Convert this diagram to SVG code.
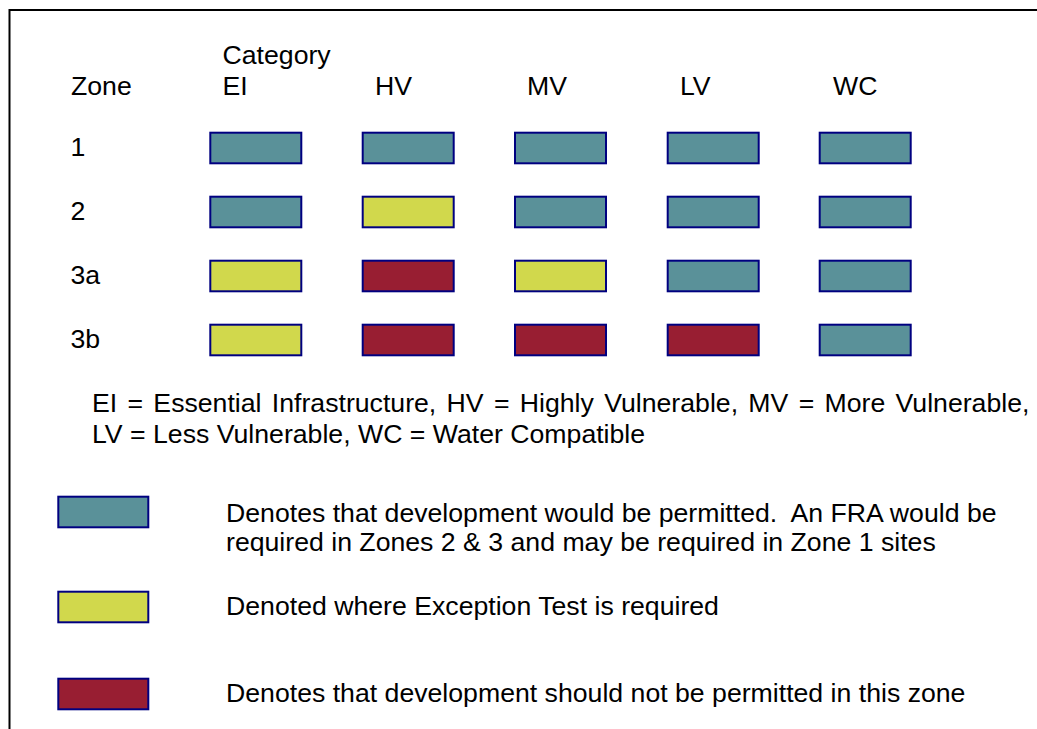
<svg xmlns="http://www.w3.org/2000/svg" width="1037" height="729" viewBox="0 0 1037 729">
  <style>
    text { font-family: "Liberation Sans", Arial, sans-serif; font-size: 26.67px; fill: #000; }
    .cell { stroke: #000080; stroke-width: 2; }
    .ok { fill: #5A9199; }
    .ex { fill: #D1D84C; }
    .no { fill: #981E32; }
  </style>
  <rect width="1037" height="729" fill="#fff"/>
  <!-- frame -->
  <path d="M9.5,729 V10 H1037" fill="none" stroke="#000" stroke-width="2"/>

  <!-- column and row headings -->
  <g id="headings">
    <text x="222.5" y="64">Category</text>
    <text x="71" y="95">Zone</text>
    <text x="222.5" y="95">EI</text>
    <text x="375" y="95">HV</text>
    <text x="527" y="95">MV</text>
    <text x="680" y="95">LV</text>
    <text x="833" y="95">WC</text>
    <text x="70.5" y="156">1</text>
    <text x="70.5" y="220">2</text>
    <text x="70.5" y="284">3a</text>
    <text x="70.5" y="348">3b</text>
  </g>

  <!-- zone 1 -->
  <g id="zone-1">
    <rect class="cell ok" x="210.3" y="132.7" width="91" height="30.6"/>
    <rect class="cell ok" x="362.7" y="132.7" width="91" height="30.6"/>
    <rect class="cell ok" x="515" y="132.7" width="91" height="30.6"/>
    <rect class="cell ok" x="667.7" y="132.7" width="91" height="30.6"/>
    <rect class="cell ok" x="819.7" y="132.7" width="91" height="30.6"/>
  </g>
  <!-- zone 2 -->
  <g id="zone-2">
    <rect class="cell ok" x="210.3" y="196.7" width="91" height="30.6"/>
    <rect class="cell ex" x="362.7" y="196.7" width="91" height="30.6"/>
    <rect class="cell ok" x="515" y="196.7" width="91" height="30.6"/>
    <rect class="cell ok" x="667.7" y="196.7" width="91" height="30.6"/>
    <rect class="cell ok" x="819.7" y="196.7" width="91" height="30.6"/>
  </g>
  <!-- zone 3a -->
  <g id="zone-3a">
    <rect class="cell ex" x="210.3" y="260.7" width="91" height="30.6"/>
    <rect class="cell no" x="362.7" y="260.7" width="91" height="30.6"/>
    <rect class="cell ex" x="515" y="260.7" width="91" height="30.6"/>
    <rect class="cell ok" x="667.7" y="260.7" width="91" height="30.6"/>
    <rect class="cell ok" x="819.7" y="260.7" width="91" height="30.6"/>
  </g>
  <!-- zone 3b -->
  <g id="zone-3b">
    <rect class="cell ex" x="210.3" y="324.7" width="91" height="30.6"/>
    <rect class="cell no" x="362.7" y="324.7" width="91" height="30.6"/>
    <rect class="cell no" x="515" y="324.7" width="91" height="30.6"/>
    <rect class="cell no" x="667.7" y="324.7" width="91" height="30.6"/>
    <rect class="cell ok" x="819.7" y="324.7" width="91" height="30.6"/>
  </g>

  <!-- abbreviations -->
  <g id="abbreviations">
    <text x="92" y="412" word-spacing="2.9">EI = Essential Infrastructure, HV = Highly Vulnerable, MV = More Vulnerable,</text>
    <text x="92" y="443">LV = Less Vulnerable, WC = Water Compatible</text>
  </g>

  <!-- key -->
  <g id="key-permitted">
    <rect class="cell ok" x="58.3" y="496.7" width="90" height="30.6"/>
    <text x="226" y="522" xml:space="preserve">Denotes that development would be permitted.  An FRA would be</text>
    <text x="226" y="551">required in Zones 2 &amp; 3 and may be required in Zone 1 sites</text>
  </g>
  <g id="key-exception">
    <rect class="cell ex" x="58.3" y="591.7" width="90" height="30.6"/>
    <text x="226" y="615">Denoted where Exception Test is required</text>
  </g>
  <g id="key-not-permitted">
    <rect class="cell no" x="58.3" y="678.7" width="90" height="30.6"/>
    <text x="226" y="702">Denotes that development should not be permitted in this zone</text>
  </g>
</svg>
